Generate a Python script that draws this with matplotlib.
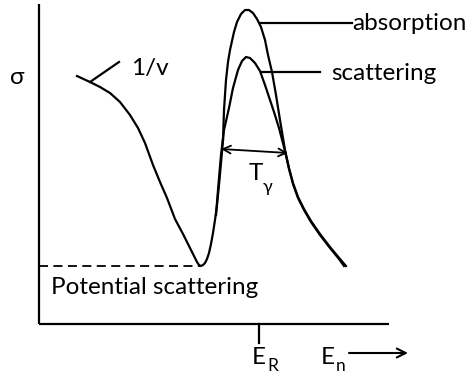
import matplotlib
matplotlib.use("Agg")
import matplotlib.pyplot as plt
import numpy as np

# ---- data (schematic curve; pixel-like units, y downward) ----
low_x = [77, 90, 100, 110, 120, 130, 138, 145, 153, 160, 167, 175, 183, 190, 194, 197, 199, 201, 203, 205, 207, 209, 211, 213, 215, 217, 219, 221, 223]
low_y = [76, 82, 87, 93, 102, 115, 128, 143, 165, 182, 198, 219, 234, 248, 256, 262, 265, 266, 265, 263, 259, 253, 244, 233, 220, 205, 185, 163, 140]

abs_x = [223, 224, 226, 228, 230, 234, 237, 241, 245, 249, 253, 257, 261, 265, 268, 272, 276, 280, 285, 289, 293, 298, 304, 311, 320, 330, 340, 346]
abs_y = [140, 110, 80, 62, 50, 32, 22, 14, 10, 10, 13, 19, 27, 40, 55, 72, 95, 120, 150, 168, 183, 197, 209, 221, 234, 247, 259, 266]

sca_x = [216, 218, 221, 224, 229, 233, 238, 242, 246, 250, 255, 260, 265, 270, 274, 279, 285, 289, 293, 298, 304, 311, 320, 330, 339, 344]
sca_y = [215, 190, 155, 130, 108, 88, 70, 61, 57, 58, 63, 71, 85, 100, 112, 128, 151, 169, 184, 198, 210, 222, 235, 248, 259, 266]

potential_level = 266
E_R = 259

plt.rcParams['font.family'] = ['Lato', 'DejaVu Sans']

fig = plt.figure(figsize=(4.74, 3.75), dpi=100)
ax = fig.add_axes([0, 0, 1, 1])
ax.set_xlim(0, 474)
ax.set_ylim(375, 0)
ax.axis('off')

lw = 1.6
# axes
ax.plot([39, 39], [4, 324], color='black', lw=lw, solid_capstyle='butt')
ax.plot([39, 389], [324, 324], color='black', lw=lw, solid_capstyle='butt')
ax.plot([E_R, E_R], [324, 343], color='black', lw=lw)

# curves
ax.plot(low_x, low_y, color='black', lw=lw, solid_joinstyle='round')
ax.plot(abs_x, abs_y, color='black', lw=lw, solid_joinstyle='round')
ax.plot(sca_x, sca_y, color='black', lw=lw, solid_joinstyle='round')

# potential scattering dashed
ax.plot([39, 200], [potential_level, potential_level], color='black', lw=1.3, dashes=(5, 3))

# leader lines
ax.plot([90, 119], [82, 62], color='black', lw=lw)
ax.plot([260, 352], [23, 23], color='black', lw=lw)
ax.plot([262, 320], [72, 72], color='black', lw=lw)

fs = 17.5
ax.text(17, 78, 'σ', fontsize=fs, ha='center', va='center')
ax.text(131, 68, '1/v', fontsize=fs, ha='left', va='center')
ax.text(352, 24, 'absorption', fontsize=fs, ha='left', va='center')
ax.text(331, 73, 'scattering', fontsize=fs, ha='left', va='center')
ax.text(51, 288, 'Potential scattering', fontsize=fs, ha='left', va='center')

# Gamma width arrow
ax.annotate('', xy=(221, 149), xytext=(288, 153),
            arrowprops=dict(arrowstyle='<->', color='black', lw=1.3,
                            shrinkA=0, shrinkB=0, mutation_scale=14))
ax.text(256, 173, 'T', fontsize=fs, ha='center', va='center')
ax.text(263, 187, 'γ', fontsize=13, ha='left', va='center')

# x labels
ax.text(E_R, 357, 'E', fontsize=fs, ha='center', va='center')
ax.text(E_R + 8, 366, 'R', fontsize=12.5, ha='left', va='center')
ax.text(328, 357, 'E', fontsize=fs, ha='center', va='center')
ax.text(336, 366, 'n', fontsize=12.5, ha='left', va='center')
ax.annotate('', xy=(408, 353), xytext=(349, 353),
            arrowprops=dict(arrowstyle='->', color='black', lw=1.5,
                            shrinkA=0, shrinkB=0, mutation_scale=16))

fig.savefig('out.png', dpi=100)
